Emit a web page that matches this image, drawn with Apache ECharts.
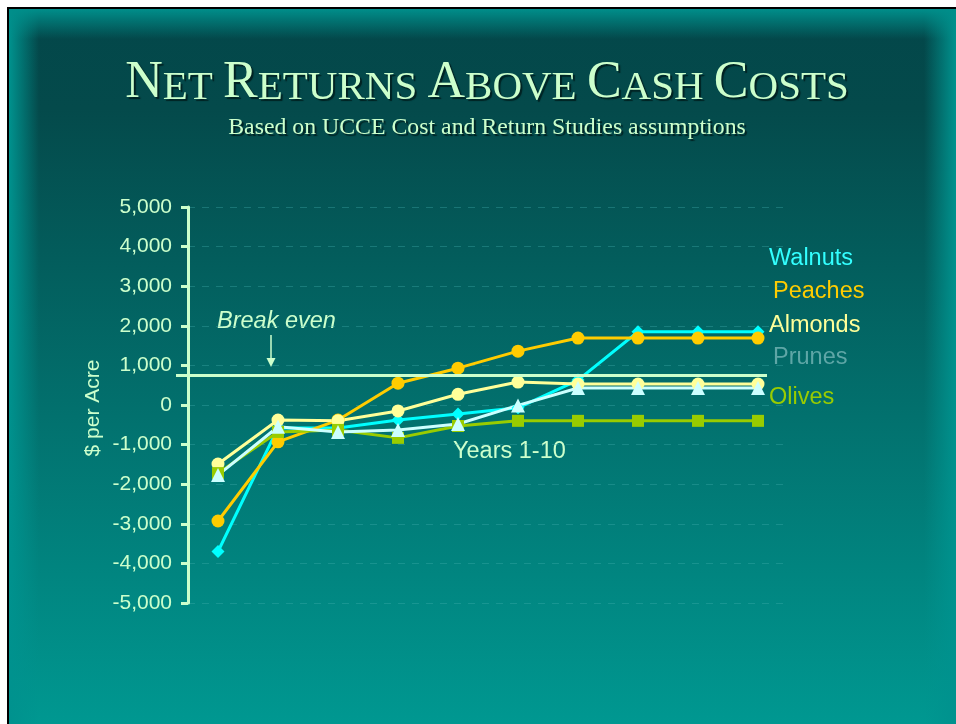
<!DOCTYPE html>
<html>
<head>
<meta charset="utf-8">
<title>Net Returns Above Cash Costs</title>
<script src="https://cdn.jsdelivr.net/npm/echarts@6/dist/echarts.min.js"></script>
<style>
    html, body { margin: 0; padding: 0; background: #fff; }
    #slide {
        position: absolute; left: 7px; top: 7px; width: 949px; height: 717px;
        box-sizing: border-box;
        border-left: 2px solid #000; border-top: 2px solid #000;
        background:
            linear-gradient(to bottom, rgba(0,142,138,1) 0px, rgba(0,142,138,0) 30px),
            linear-gradient(to right, rgba(0,146,142,1) 0px, rgba(0,146,142,0) 30px),
            linear-gradient(to left, rgba(0,146,142,1) 0px, rgba(0,146,142,0) 32px),
            linear-gradient(to bottom, #03474a 0%, #044a4b 14%, #009891 100%);
    }
    #chart { position: absolute; left: 0; top: 0; width: 956px; height: 724px; }
</style>
</head>
<body>
<div id="slide"></div>
<div id="chart"></div>
<script>
// years 1-10
const years = ['1', '2', '3', '4', '5', '6', '7', '8', '9', '10'];

// $ per acre
const walnuts = [-3700, -580, -580, -380, -230, -70, 630, 1850, 1850, 1850];
const peaches = [-2930, -930, -380, 550, 930, 1360, 1690, 1690, 1690, 1690];
const almonds = [-1490, -380, -400, -150, 270, 580, 530, 530, 530, 530];
const prunes = [-1770, -550, -680, -630, -480, -10, 430, 430, 430, 430];
const olives = [-1720, -680, -630, -830, -530, -400, -400, -400, -400, -400];

const breakEven = 760;
const yMin = -5000;
const yMax = 5000;
const yStep = 1000;

const textColor = '#ccffcc';
const sans = 'Liberation Sans';
const serif = 'Liberation Serif';

function makeSeries(name, data, color, symbol, size) {
    return {
        name: name,
        type: 'line',
        data: data,
        symbol: symbol,
        symbolSize: size,
        lineStyle: { color: color, width: 3 },
        itemStyle: { color: color },
        animation: false
    };
}

const chart = echarts.init(document.getElementById('chart'));

const shadow = {
    textShadowColor: '#012222',
    textShadowOffsetX: 2,
    textShadowOffsetY: 2,
    textShadowBlur: 1
};

var series = [
    makeSeries('Walnuts', walnuts, '#00ffff', 'diamond', 13),
    makeSeries('Peaches', peaches, '#ffcc00', 'circle', 13),
    makeSeries('Almonds', almonds, '#ffff99', 'circle', 13),
    makeSeries('Olives', olives, '#99cc00', 'rect', 12),
    makeSeries('Prunes', prunes, '#ccffff', 'triangle', 14)
];

// break even line
series[0].markLine = {
    silent: true,
    symbol: 'none',
    label: { show: false },
    lineStyle: { color: textColor, width: 3, type: 'solid' },
    data: [[{ yAxis: breakEven, x: 176 }, { yAxis: breakEven, x: 767 }]]
};

const legendItems = [
    { name: 'Walnuts', color: '#33ffff', x: 769, y: 259 },
    { name: 'Peaches', color: '#ffcc00', x: 773, y: 292 },
    { name: 'Almonds', color: '#ffff99', x: 769, y: 326 },
    { name: 'Prunes', color: '#5ea6a6', x: 773, y: 358 },
    { name: 'Olives', color: '#99cc00', x: 769, y: 398 }
];

var graphics = legendItems.map(item => ({
    type: 'text',
    x: item.x,
    y: item.y,
    style: {
        text: item.name,
        fill: item.color,
        font: '23.5px ' + sans,
        verticalAlign: 'middle'
    }
}));

graphics.push(
    {
        type: 'text', x: 217, y: 321,
        style: { text: 'Break even', fill: textColor, font: 'italic 23.5px ' + sans, verticalAlign: 'middle' }
    },
    {
        type: 'line',
        shape: { x1: 271, y1: 335, x2: 271, y2: 360 },
        style: { stroke: textColor, lineWidth: 1.5 }
    },
    {
        type: 'polygon',
        shape: { points: [[266.5, 358], [275.5, 358], [271, 367]] },
        style: { fill: textColor }
    },
    {
        type: 'text', x: 453, y: 452,
        style: { text: 'Years 1-10', fill: textColor, font: '23.5px ' + sans, verticalAlign: 'middle' }
    },
    {
        type: 'text', x: 93, y: 408, rotation: Math.PI / 2,
        style: { text: '$ per Acre', fill: textColor, font: '21px ' + sans, align: 'center', verticalAlign: 'middle' }
    }
);

var option = {
    backgroundColor: 'transparent',
    title: [
        {
            text: '{b|N}{s|ET} {b|R}{s|ETURNS} {b|A}{s|BOVE} {b|C}{s|ASH} {b|C}{s|OSTS}',
            left: 487,
            top: 57,
            textAlign: 'center',
            padding: 0,
            textStyle: Object.assign({
                color: textColor,
                fontFamily: serif,
                fontSize: 41,
                fontWeight: 'normal',
                rich: {
                    b: Object.assign({ color: textColor, fontFamily: serif, fontSize: 52, lineHeight: 52, verticalAlign: 'bottom' }, shadow),
                    s: Object.assign({ color: textColor, fontFamily: serif, fontSize: 41, lineHeight: 44.6, verticalAlign: 'bottom' }, shadow)
                }
            }, shadow)
        },
        {
            text: 'Based on UCCE Cost and Return Studies assumptions',
            left: 487,
            top: 116,
            textAlign: 'center',
            padding: 0,
            textStyle: Object.assign({
                color: textColor,
                fontFamily: serif,
                fontSize: 23.8,
                lineHeight: 24,
                fontWeight: 'normal'
            }, shadow)
        }
    ],
    grid: {
        left: 188,
        top: 207,
        width: 600,
        height: 396
    },
    xAxis: {
        type: 'category',
        data: years,
        boundaryGap: true,
        axisLine: { show: false },
        axisTick: { show: false },
        axisLabel: { show: false },
        splitLine: { show: false }
    },
    yAxis: {
        type: 'value',
        min: yMin,
        max: yMax,
        interval: yStep,
        axisLine: { show: true, lineStyle: { color: textColor, width: 3 } },
        axisTick: { show: true, length: 7, lineStyle: { color: textColor, width: 3 } },
        axisLabel: {
            color: textColor,
            fontFamily: sans,
            fontSize: 21,
            margin: 16,
            formatter: value => value.toLocaleString('en-US')
        },
        splitLine: {
            show: true,
            lineStyle: { color: 'rgba(70,175,175,0.35)', width: 1, type: [7, 7] }
        }
    },
    graphic: graphics,
    series: series
};

chart.setOption(option);
</script>
</body>
</html>
